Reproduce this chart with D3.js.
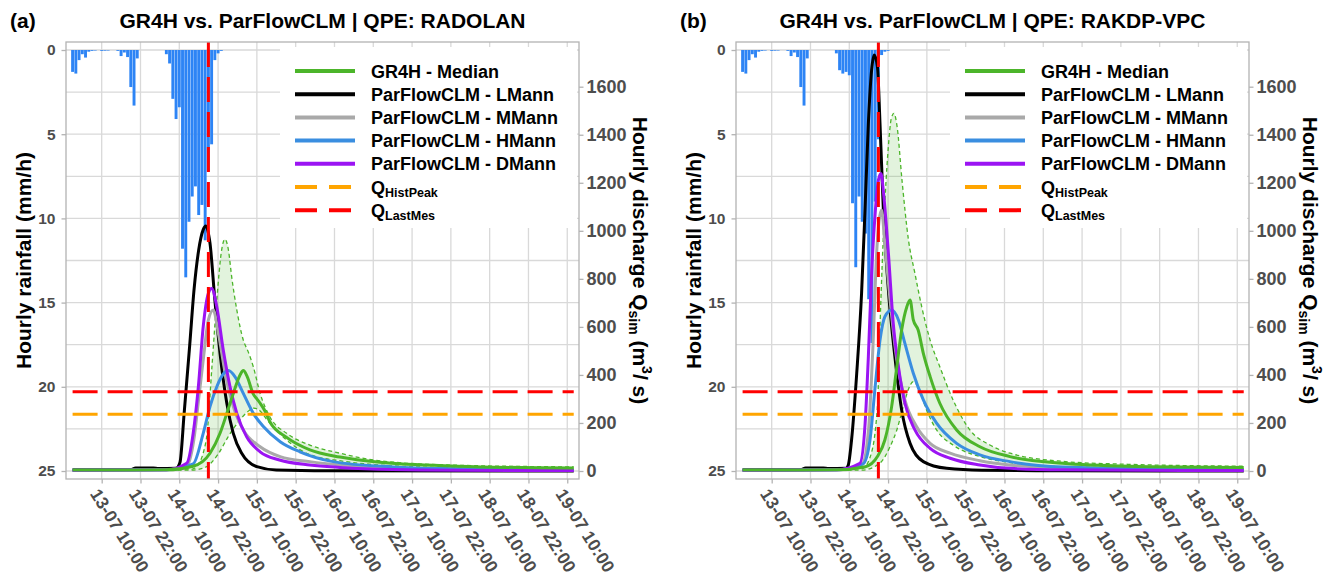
<!DOCTYPE html>
<html>
<head>
<meta charset="utf-8">
<script src="https://cdn.jsdelivr.net/npm/d3@7"></script>
<style>
  body { margin: 0; background: #fff; }
  svg { font-family: "Liberation Sans", Arial, sans-serif; font-weight: bold; }
</style>
</head>
<body>
<svg id="chart" width="1328" height="582"></svg>
<script>
// all times are hours counted from 13-07-2021 00:00
const tickHours = [10, 22, 34, 46, 58, 70, 82, 94, 106, 118, 130, 142, 154];
const rainTicks = [0, 5, 10, 15, 20, 25];
const rainGrid = [0, 2.5, 5, 7.5, 10, 12.5, 15, 17.5, 20, 22.5, 25];
const qTicks = [0, 200, 400, 600, 800, 1000, 1200, 1400, 1600];

const rainHours = [1, 2, 3, 4, 5, 6, 7, 8, 9, 10, 11, 12, 13, 14, 15, 16, 17, 18, 19, 20,
  21, 22, 23, 24, 25, 26, 27, 28, 29, 30, 31, 32, 33, 34, 35, 36, 37, 38, 39, 40,
  41, 42, 43, 44, 45, 46, 47];
const rainRadolan = [1.3, 1.4, 0.6, 0.25, 0.45, 0.1, 0.05, 0.03, 0, 0.05,
  0.04, 0.03, 0, 0, 0.05, 0.36, 0.15, 0.42, 2.2, 3.3,
  0.5, 0, 0, 0, 0, 0, 0, 0, 0, 0.25,
  0.8, 2.9, 4.1, 3.4, 11.8, 13.5, 10.2, 8.7, 8.1, 9.8,
  9.2, 11.3, 7.2, 5.6, 0.6, 0.2, 0.05];
const rainRakdp = [1.3, 1.4, 0.6, 0.25, 0.45, 0.1, 0.05, 0.03, 0, 0.05,
  0.04, 0.03, 0, 0, 0.05, 0.36, 0.15, 0.42, 2.2, 3.3,
  0.5, 0, 0, 0, 0, 0, 0, 0, 0, 0.2,
  1.2, 1.4, 1.3, 1.5, 9.1, 12.9, 8.7, 10.2, 10.9, 14.8,
  17.4, 9.0, 5.3, 0.3, 0.1, 0.05, 0];

const qHistPeak = 236;
const qLastMes = 330;
const lastMesHour = 43;
const dataStart = 1, dataEnd = 156;

// panel (a) - RADOLAN, [hour, m3/s]
const a_median = [[1,4],[30,5],[38.3,20],[43.5,74],[46.6,157],[48.7,240],[50.7,323],[52.8,400],[53.8,418],[55,393],[56.9,320],[58,300],[59,282],[60.5,250],[62,205],[67.2,140],[74.4,88],[83.7,58],[96,36],[120,20],[156,12]];
const a_upper = [[1,6],[30,7],[38,8],[40,30],[41.5,80],[42.6,157],[44.1,434],[45.6,712],[47.1,920],[48.1,965],[49.2,920],[50.2,809],[51.8,670],[53.8,545],[55.3,497],[56.9,434],[59,323],[62,226],[67.2,157],[74.4,108],[83.7,74],[94,46],[117,25],[156,17]];
const a_lower = [[1,3],[38,4],[42,15],[46,70],[49,140],[52,200],[55,245],[57,262],[59,250],[61,215],[64,170],[68,120],[74,70],[84,42],[96,25],[120,13],[156,7]];
const a_lmann = [[1,5],[19,6],[20.5,13],[26,13],[27.5,10],[33,11],[34.2,35],[35.5,240],[37.2,520],[38.6,760],[40,920],[41.4,1005],[42.2,1020],[43.5,948],[45,712],[46.6,490],[48.7,282],[50.7,157],[53.3,74],[58,18],[64,4],[80,1],[156,0]];
const a_mmann = [[1,3],[30,5],[36.5,25],[38.5,130],[40,300],[41.4,462],[43,629],[44.5,670],[46.1,573],[48.2,407],[50.7,268],[53.8,171],[59,101],[65.2,60],[74.4,39],[83.7,25],[100,14],[120,8],[156,5]];
const a_hmann = [[1,3],[30,5],[38.3,30],[41.4,157],[43.5,268],[45.6,351],[47.6,404],[49.2,418],[51.2,393],[53.8,323],[56.9,240],[60,185],[65.2,122],[71.3,80],[81.6,39],[100,17],[120,9],[156,4]];
const a_dmann = [[1,3],[30,5],[36.3,32],[38.3,157],[39.9,351],[41.4,601],[43,740],[44,760],[45.6,684],[47.6,504],[49.7,351],[51.8,240],[54.8,143],[59,80],[65,46],[74.4,25],[83.7,15],[100,6],[120,3],[156,2]];

// panel (b) - RAKDP-VPC
const b_median = [[1,4],[30,5],[39,18],[42.7,60],[45,129],[47.1,268],[48.7,434],[50.2,587],[51.8,684],[52.8,712],[53.8,629],[55.3,587],[56.9,490],[59,393],[62,282],[67.2,171],[74.4,101],[83.7,60],[100,32],[120,20],[156,15]];
const b_upper = [[1,6],[38,10],[40.5,60],[42.7,268],[43.7,684],[44.7,1031],[46,1336],[47,1468],[47.8,1489],[48.8,1433],[50.3,1211],[52.3,962],[54.3,823],[56.4,684],[59,545],[62,434],[66.1,296],[71.3,171],[77.5,108],[83.7,74],[100,40],[120,28],[156,20]];
const b_lower = [[1,3],[38,4],[43.5,33],[46.6,101],[48.7,171],[50.7,268],[52.2,337],[53.8,372],[55.3,350],[57.9,254],[61,171],[66.1,108],[74.4,60],[83.7,35],[100,18],[156,8]];
const b_lmann = [[1,5],[19,6],[20.5,13],[26,13],[27.5,10],[33,11],[33.7,25],[34.7,129],[36.3,407],[37.8,740],[38.9,1100],[39.9,1447],[40.9,1669],[41.7,1732],[42.7,1683],[43.5,1447],[44.5,1100],[46.1,753],[48.1,476],[50.2,254],[52.8,115],[56.9,39],[64.1,11],[75,3],[100,1],[156,0]];
const b_mmann = [[1,3],[30,5],[38,30],[40,180],[41.4,545],[42.4,892],[43.2,1040],[44,1087],[44.9,962],[46.6,712],[48.7,462],[51.2,296],[54.8,185],[59,115],[65.2,74],[74.4,43],[83.7,25],[100,13],[156,5]];
const b_hmann = [[1,3],[30,5],[38.3,30],[40.4,129],[41.9,337],[43.5,545],[45,642],[47.1,670],[49.2,629],[51.2,531],[53.8,407],[56.9,296],[61,199],[67.2,115],[74.4,67],[83.7,39],[100,17],[156,4]];
const b_dmann = [[1,3],[30,5],[37.3,32],[38.9,199],[39.9,476],[40.9,823],[42,1073],[43,1211],[43.8,1239],[44.7,1142],[46.1,906],[47.6,615],[49.2,434],[51.2,282],[54.3,171],[59,94],[65.2,53],[74.4,25],[83.7,11],[100,5],[156,2]];

const legendNames = ["GR4H - Median", "ParFlowCLM - LMann", "ParFlowCLM - MMann", "ParFlowCLM - HMann", "ParFlowCLM - DMann"];
const legendColors = ["#4cb52a", "#000000", "#a9a9a9", "#3a8ee0", "#9b14f3"];
const refColors = { hist: "#ffa500", last: "#ff0000" };

const t0 = new Date(2021, 6, 13, 0, 0);
const toDate = h => new Date(t0.getTime() + h * 3600000);

const svg = d3.select("#chart");

const x = d3.scaleTime().domain([toDate(-1.04), toDate(157.63)]).range([66, 579]);
const yRain = d3.scaleLinear().domain([0, 25]).range([50, 471]);
const yQ = d3.scaleLinear().domain([0, 1600]).range([471, 86.7]);

const panel = { x0: 66, x1: 579, y0: 42, y1: 479 };
const gridCol = "#d9d9d9";
const tickCol = "#b3b3b3";
const labCol = "#4d4d4d";
const fmt = d3.timeFormat("%d-%m %H:%M");

function drawPanel(offset, tag, title, rain, s) {
  const g = svg.append("g").attr("transform", "translate(" + offset + ",0)");

  // grid
  g.selectAll("line.hgrid").data(rainGrid).enter().append("line")
    .attr("x1", panel.x0).attr("x2", panel.x1)
    .attr("y1", d => yRain(d)).attr("y2", d => yRain(d))
    .style("stroke", gridCol).style("stroke-width", 1.3);
  g.selectAll("line.vgrid").data(tickHours).enter().append("line")
    .attr("x1", d => x(toDate(d))).attr("x2", d => x(toDate(d)))
    .attr("y1", panel.y0).attr("y2", panel.y1)
    .style("stroke", gridCol).style("stroke-width", 1.3);

  // rainfall bars hanging from the top
  g.selectAll("rect.rain").data(rainHours).enter().append("rect")
    .attr("x", h => x(toDate(h - 0.45)))
    .attr("width", h => x(toDate(h + 0.45)) - x(toDate(h - 0.45)))
    .attr("y", yRain(0))
    .attr("height", (h, i) => yRain(rain[i]) - yRain(0))
    .attr("fill", "#2d84f5");

  const line = d3.line()
    .x(d => x(toDate(d[0])))
    .y(d => yQ(d[1]))
    .curve(d3.curveMonotoneX);

  // GR4H uncertainty band
  const up = line(s.upper);
  const lo = line(s.lower.slice().reverse());
  g.append("path")
    .attr("d", up + "L" + lo.substring(1) + "Z")
    .attr("fill", legendColors[0]).attr("fill-opacity", 0.16);
  [s.upper, s.lower].forEach(function(d) {
    g.append("path").attr("d", line(d))
      .attr("fill", "none").attr("stroke", legendColors[0])
      .attr("stroke-width", 1.3).attr("stroke-dasharray", "4,3");
  });

  // simulated hydrographs
  const order = [[s.lmann, 1], [s.mmann, 2], [s.hmann, 3], [s.dmann, 4], [s.median, 0]];
  order.forEach(function(o) {
    g.append("path").attr("d", line(o[0]))
      .attr("fill", "none").attr("stroke", legendColors[o[1]])
      .attr("stroke-width", 3).attr("stroke-linejoin", "round");
  });

  // reference discharges
  [[qLastMes, refColors.last], [qHistPeak, refColors.hist]].forEach(function(r) {
    g.append("line")
      .attr("x1", x(toDate(dataStart))).attr("x2", x(toDate(dataEnd)))
      .attr("y1", yQ(r[0])).attr("y2", yQ(r[0]))
      .style("stroke", r[1]).style("stroke-width", 3)
      .style("stroke-dasharray", "25,10");
  });
  g.append("line")
    .attr("x1", x(toDate(lastMesHour))).attr("x2", x(toDate(lastMesHour)))
    .attr("y1", panel.y0).attr("y2", panel.y1)
    .style("stroke", refColors.last).style("stroke-width", 3)
    .style("stroke-dasharray", "25,10");

  // legend
  const lg = g.append("g");
  lg.append("rect").attr("x", 280).attr("y", 47).attr("width", 297).attr("height", 181).attr("fill", "#fff");
  const rowY = i => 71 + i * 23.2;
  legendNames.forEach(function(n, i) {
    lg.append("line").attr("x1", 295).attr("x2", 355).attr("y1", rowY(i)).attr("y2", rowY(i))
      .style("stroke", legendColors[i]).style("stroke-width", 4);
    lg.append("text").attr("x", 371).attr("y", rowY(i) + 6.5)
      .attr("font-size", 18).attr("fill", "#000").text(n);
  });
  [["HistPeak", refColors.hist], ["LastMes", refColors.last]].forEach(function(r, k) {
    const i = 5 + k;
    lg.append("line").attr("x1", 295).attr("x2", 355).attr("y1", rowY(i)).attr("y2", rowY(i))
      .style("stroke", r[1]).style("stroke-width", 4).style("stroke-dasharray", "22,12");
    const t = lg.append("text").attr("x", 371).attr("y", rowY(i) + 6.5).attr("font-size", 18).attr("fill", "#000");
    t.append("tspan").text("Q");
    t.append("tspan").attr("font-size", 12.5).attr("dy", 3).text(r[0]);
  });

  // panel border
  g.append("rect").attr("x", panel.x0).attr("y", panel.y0)
    .attr("width", panel.x1 - panel.x0).attr("height", panel.y1 - panel.y0)
    .attr("fill", "none").style("stroke", tickCol).style("stroke-width", 1.3);

  // left axis
  const la = g.append("g").attr("transform", "translate(" + panel.x0 + ",0)")
    .call(d3.axisLeft(yRain).tickValues(rainTicks).tickSize(4.5).tickPadding(6));
  la.select(".domain").remove();
  la.selectAll("line").style("stroke", tickCol).style("stroke-width", 1.3);
  la.selectAll("text").attr("font-size", 15.5).attr("font-family", null).attr("fill", labCol);

  // right axis
  const ra = g.append("g").attr("transform", "translate(" + panel.x1 + ",0)")
    .call(d3.axisRight(yQ).tickValues(qTicks).tickFormat(d3.format("d")).tickSize(4.5).tickPadding(3));
  ra.select(".domain").remove();
  ra.selectAll("line").style("stroke", tickCol).style("stroke-width", 1.3);
  ra.selectAll("text").attr("font-size", 18).attr("font-family", null).attr("fill", labCol);

  // bottom axis
  const ba = g.append("g").attr("transform", "translate(0," + panel.y1 + ")")
    .call(d3.axisBottom(x).tickValues(tickHours.map(toDate)).tickFormat(fmt).tickSize(4.5));
  ba.select(".domain").remove();
  ba.selectAll("line").style("stroke", tickCol).style("stroke-width", 1.3);
  ba.selectAll("text")
    .attr("font-size", 17.5).attr("font-family", null).attr("fill", labCol)
    .attr("text-anchor", "start").attr("x", 0).attr("y", 0).attr("dy", "0.72em")
    .attr("transform", "translate(-2,8) rotate(58)");

  // axis titles
  g.append("text").attr("transform", "translate(31,260.5) rotate(-90)")
    .attr("text-anchor", "middle").attr("font-size", 21).text("Hourly rainfall (mm/h)");
  const rt = g.append("text").attr("transform", "translate(633,260.5) rotate(90)")
    .attr("text-anchor", "middle").attr("font-size", 21);
  rt.append("tspan").text("Hourly discharge Q");
  rt.append("tspan").attr("font-size", 14).attr("dy", 4).text("sim");
  rt.append("tspan").attr("dy", -4).text(" (m");
  rt.append("tspan").attr("font-size", 14).attr("dy", -9).text("3");
  rt.append("tspan").attr("dy", 9).text("/ s)");

  // titles
  g.append("text").attr("x", (panel.x0 + panel.x1) / 2).attr("y", 28)
    .attr("text-anchor", "middle").attr("font-size", 21).text(title);
  g.append("text").attr("x", 10).attr("y", 28)
    .attr("font-size", 21).text(tag);
}

drawPanel(0, "(a)", "GR4H vs. ParFlowCLM | QPE: RADOLAN", rainRadolan,
  { median: a_median, upper: a_upper, lower: a_lower, lmann: a_lmann, mmann: a_mmann, hmann: a_hmann, dmann: a_dmann });
drawPanel(670, "(b)", "GR4H vs. ParFlowCLM | QPE: RAKDP-VPC", rainRakdp,
  { median: b_median, upper: b_upper, lower: b_lower, lmann: b_lmann, mmann: b_mmann, hmann: b_hmann, dmann: b_dmann });
</script>
</body>
</html>
